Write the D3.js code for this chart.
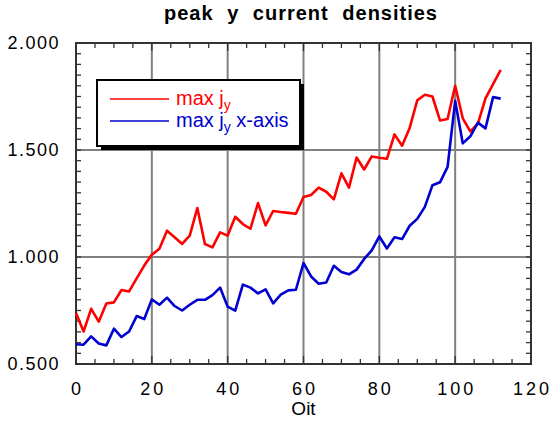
<!DOCTYPE html>
<html lang="en">
<head>
<meta charset="UTF-8">
<title>peak y current densities</title>
<script src="https://d3js.org/d3.v7.min.js"></script>
<style>
  body { margin: 0; background: #ffffff; }
  svg text { font-family: "Liberation Sans", Arial, sans-serif; fill: #000; }
  .title { font-size: 20px; font-weight: bold; letter-spacing: 1px; word-spacing: 7px; }
  .ylab { font-size: 18px; letter-spacing: 1.5px; }
  .xlab { font-size: 18px; letter-spacing: 3px; }
  .axis-title { font-size: 19px; }
  .legend-text { font-size: 20px; }
</style>
</head>
<body>
<div id="chart"></div>
<script>
// iteration numbers (Oit)
const iterations = d3.range(0, 113, 2);

// max j_y
const maxJy = [
  0.738, 0.652, 0.758, 0.698, 0.783, 0.788, 0.846, 0.839, 0.900, 0.960,
  1.011, 1.039, 1.123, 1.092, 1.061, 1.100, 1.229, 1.061, 1.045, 1.115,
  1.100, 1.188, 1.154, 1.132, 1.252, 1.148, 1.215, 1.210, 1.206, 1.202,
  1.280, 1.290, 1.324, 1.305, 1.269, 1.391, 1.324, 1.465, 1.409, 1.470,
  1.464, 1.459, 1.573, 1.520, 1.603, 1.732, 1.758, 1.750, 1.638, 1.645,
  1.800, 1.648, 1.587, 1.623, 1.741, 1.808, 1.874
];

// max j_y on the x-axis
const maxJyXAxis = [
  0.592, 0.590, 0.629, 0.596, 0.587, 0.665, 0.626, 0.652, 0.724, 0.710,
  0.802, 0.777, 0.810, 0.771, 0.750, 0.777, 0.800, 0.800, 0.822, 0.857,
  0.768, 0.749, 0.871, 0.857, 0.830, 0.849, 0.783, 0.824, 0.844, 0.847,
  0.972, 0.909, 0.875, 0.881, 0.959, 0.930, 0.919, 0.941, 0.991, 1.031,
  1.096, 1.040, 1.092, 1.084, 1.146, 1.178, 1.234, 1.335, 1.349, 1.421,
  1.730, 1.531, 1.564, 1.628, 1.601, 1.747, 1.740
];

const xTicks = [0, 20, 40, 60, 80, 100, 120];
const yTicks = [0.5, 1.0, 1.5, 2.0];
const seriesNames = ["max j", "max j"];
const seriesSuffix = ["", " x-axis"];

const W = 551, H = 423;
const margin = { top: 43, right: 20, bottom: 59, left: 76 };
const innerW = 531 - margin.left, innerH = 364 - margin.top;

const svg = d3.select("#chart").append("svg")
  .attr("width", W).attr("height", H);

const x = d3.scaleLinear().domain([0, 120]).range([margin.left, margin.left + innerW]);
const y = d3.scaleLinear().domain([0.5, 2.0]).range([margin.top + innerH, margin.top]);

// grid lines
svg.append("g").selectAll("line")
  .data(xTicks.slice(1, -1)).enter().append("line")
  .attr("x1", d => x(d)).attr("x2", d => x(d))
  .attr("y1", y(0.5)).attr("y2", y(2.0))
  .attr("stroke", "#808080").attr("stroke-width", 2);
svg.append("g").selectAll("line")
  .data(yTicks.slice(1, -1)).enter().append("line")
  .attr("y1", d => y(d)).attr("y2", d => y(d))
  .attr("x1", x(0)).attr("x2", x(120))
  .attr("stroke", "#808080").attr("stroke-width", 2);

// inward ticks on all four sides
const xMinor = d3.range(0, 121, 5);
const yMinor = d3.range(0.5, 2.0001, 0.05);
const tickG = svg.append("g").attr("stroke", "#333").attr("stroke-width", 1.3);
xMinor.forEach(v => {
  const len = v % 20 === 0 ? 8 : 5;
  tickG.append("line").attr("x1", x(v)).attr("x2", x(v)).attr("y1", y(0.5)).attr("y2", y(0.5) - len);
  tickG.append("line").attr("x1", x(v)).attr("x2", x(v)).attr("y1", y(2.0)).attr("y2", y(2.0) + len);
});
yMinor.forEach(v => {
  tickG.append("line").attr("y1", y(v)).attr("y2", y(v)).attr("x1", x(0)).attr("x2", x(0) + 5);
  tickG.append("line").attr("y1", y(v)).attr("y2", y(v)).attr("x1", x(120)).attr("x2", x(120) - 5);
});

// frame
svg.append("rect")
  .attr("x", x(0)).attr("y", y(2.0))
  .attr("width", x(120) - x(0)).attr("height", y(0.5) - y(2.0))
  .attr("fill", "none").attr("stroke", "#333").attr("stroke-width", 2);

// tick labels
svg.append("g").selectAll("text")
  .data(yTicks).enter().append("text")
  .attr("class", "ylab")
  .attr("x", 60).attr("y", d => y(d) + 6)
  .attr("text-anchor", "end")
  .text(d => d3.format(".3f")(d));
svg.append("g").selectAll("text")
  .data(xTicks).enter().append("text")
  .attr("class", "xlab")
  .attr("x", d => x(d) + 1.5).attr("y", 395)
  .attr("text-anchor", "middle")
  .text(d => d);

svg.append("text").attr("class", "axis-title")
  .attr("x", x(60)).attr("y", 415).attr("text-anchor", "middle").text("Oit");
svg.append("text").attr("class", "title")
  .attr("x", 301).attr("y", 20).attr("text-anchor", "middle")
  .text("peak y current densities");

// series lines
const line = d3.line().x((d, i) => x(iterations[i])).y(d => y(d));
svg.append("path").datum(maxJy)
  .attr("d", line).attr("fill", "none")
  .attr("stroke", "#ff0000").attr("stroke-width", 2.6).attr("stroke-linejoin", "round");
svg.append("path").datum(maxJyXAxis)
  .attr("d", line).attr("fill", "none")
  .attr("stroke", "#0000d0").attr("stroke-width", 2.6).attr("stroke-linejoin", "round");

// legend
const lg = svg.append("g");
lg.append("rect").attr("x", 101).attr("y", 84).attr("width", 203).attr("height", 66).attr("fill", "#000");
lg.append("rect").attr("x", 97).attr("y", 80).attr("width", 203).attr("height", 66)
  .attr("fill", "#fff").attr("stroke", "#000").attr("stroke-width", 2);
const colors = ["#ff0000", "#0000d0"];
[0, 1].forEach(i => {
  const ly = 99 + i * 22;
  lg.append("line").attr("x1", 110).attr("x2", 169).attr("y1", ly).attr("y2", ly)
    .attr("stroke", colors[i]).attr("stroke-width", 1.5);
  const t = lg.append("text").attr("class", "legend-text")
    .attr("x", 176).attr("y", ly + 6).style("fill", colors[i]);
  t.append("tspan").text(seriesNames[i]);
  t.append("tspan").attr("dy", 5).attr("font-size", "14px").text("y");
  t.append("tspan").attr("dy", -5).text(seriesSuffix[i]);
});
</script>
</body>
</html>
